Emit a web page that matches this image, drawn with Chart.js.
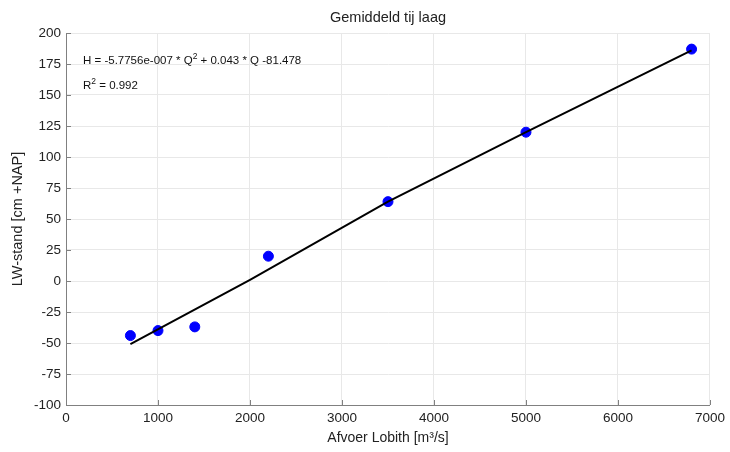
<!DOCTYPE html>
<html>
<head>
<meta charset="utf-8">
<script src="https://cdn.jsdelivr.net/npm/chart.js"></script>
<style>
  html, body { margin: 0; padding: 0; background: #fff; }
  #wrap { width: 730px; height: 452px; }
</style>
</head>
<body>
<div id="wrap"><canvas id="myChart"></canvas></div>
<script>
/*---------------------------- data ------------------------------------*/
var afvoer = [700, 1000, 1400, 2200, 3500, 5000, 6800];
var lwStand = [-44, -40, -37, 20, 64, 120, 187];

// fitted line
var fitQ = [700, 2000, 3500, 5000, 6800];
var fitH = [-51, 1, 64, 120, 186];

var xTicks = [0, 1000, 2000, 3000, 4000, 5000, 6000, 7000];
var yTicks = [-100, -75, -50, -25, 0, 25, 50, 75, 100, 125, 150, 175, 200];

var titleText = "Gemiddeld tij laag";
var xTitle = "Afvoer Lobith [m\u00b3/s]";
var yTitle = "LW-stand [cm +NAP]";

var FONT = "'Liberation Sans', Arial, sans-serif";

function toPoints(xs, ys) {
  return xs.map(function (x, i) { return { x: x, y: ys[i] }; });
}

// text with a small raised part, e.g. Q^2
function drawParts(ctx, parts, x, y, size) {
  parts.forEach(function (p) {
    if (p.sup) {
      ctx.font = (size - 3) + "px " + FONT;
      ctx.fillText(p.t, x, y - 5);
    } else {
      ctx.font = size + "px " + FONT;
      ctx.fillText(p.t, x, y);
    }
    x += ctx.measureText(p.t).width;
  });
}

var extras = {
  id: "extras",
  afterDraw: function (chart) {
    var ctx = chart.ctx, a = chart.chartArea;
    var xs = chart.scales.x, ys = chart.scales.y;
    ctx.save();
    // inward tick marks
    ctx.strokeStyle = "#808080";
    ctx.lineWidth = 1;
    ctx.beginPath();
    xTicks.forEach(function (v) {
      var px = Math.round(xs.getPixelForValue(v)) + 0.5;
      ctx.moveTo(px, a.bottom);
      ctx.lineTo(px, a.bottom - 5);
    });
    yTicks.forEach(function (v) {
      var py = Math.round(ys.getPixelForValue(v)) + 0.5;
      ctx.moveTo(a.left, py);
      ctx.lineTo(a.left + 5, py);
    });
    ctx.stroke();

    // title
    ctx.fillStyle = "#222";
    ctx.textAlign = "center";
    ctx.textBaseline = "alphabetic";
    ctx.font = "14.5px " + FONT;
    ctx.fillText(titleText, (a.left + a.right) / 2, 22);

    // equation texts
    ctx.textAlign = "left";
    ctx.fillStyle = "#111";
    drawParts(ctx, [
      { t: "H = -5.7756e-007 * Q" },
      { t: "2", sup: true },
      { t: " + 0.043 * Q -81.478" }
    ], 83, 64, 11.5);
    drawParts(ctx, [
      { t: "R" },
      { t: "2", sup: true },
      { t: " = 0.992" }
    ], 83, 89, 11.5);
    ctx.restore();
  }
};

new Chart("myChart", {
  type: "scatter",
  data: {
    datasets: [{
      label: "fit",
      data: toPoints(fitQ, fitH),
      showLine: true,
      borderColor: "#000",
      borderWidth: 2,
      pointRadius: 0,
      fill: false,
      order: 0
    },
    {
      label: "metingen",
      data: toPoints(afvoer, lwStand),
      backgroundColor: "#0000ff",
      borderColor: "#0000ff",
      pointRadius: 5,
      showLine: false,
      order: 1
    }]
  },
  plugins: [extras],
  options: {
    responsive: true,
    maintainAspectRatio: false,
    animation: false,
    layout: { padding: { top: 33, right: 20, left: 0, bottom: 0 } },
    plugins: {
      legend: { display: false },
      tooltip: { enabled: false },
      title: { display: false }
    },
    scales: {
      x: {
        type: "linear",
        min: 0,
        max: 7000,
        afterBuildTicks: function (s) { s.ticks = xTicks.map(function (v) { return { value: v }; }); },
        afterFit: function (s) { s.height = 47; },
        grid: { color: "#e8e8e8", drawTicks: false },
        border: { color: "#808080", width: 1 },
        ticks: {
          color: "#222", padding: 5, maxRotation: 0,
          font: { family: FONT, size: 13.5 },
          callback: function (v) { return String(v); }
        },
        title: { display: true, text: xTitle, color: "#222", padding: { top: 0, bottom: 5 }, font: { family: FONT, size: 14 } }
      },
      y: {
        min: -100,
        max: 200,
        afterBuildTicks: function (s) { s.ticks = yTicks.map(function (v) { return { value: v }; }); },
        afterFit: function (s) { s.width = 66; },
        grid: { color: "#e8e8e8", drawTicks: false },
        border: { color: "#808080", width: 1 },
        ticks: { color: "#222", padding: 5, font: { family: FONT, size: 13.5 } },
        title: { display: true, text: yTitle, color: "#222", padding: { top: 9, bottom: 0 }, font: { family: FONT, size: 14.5 } }
      }
    }
  }
});
</script>
</body>
</html>
